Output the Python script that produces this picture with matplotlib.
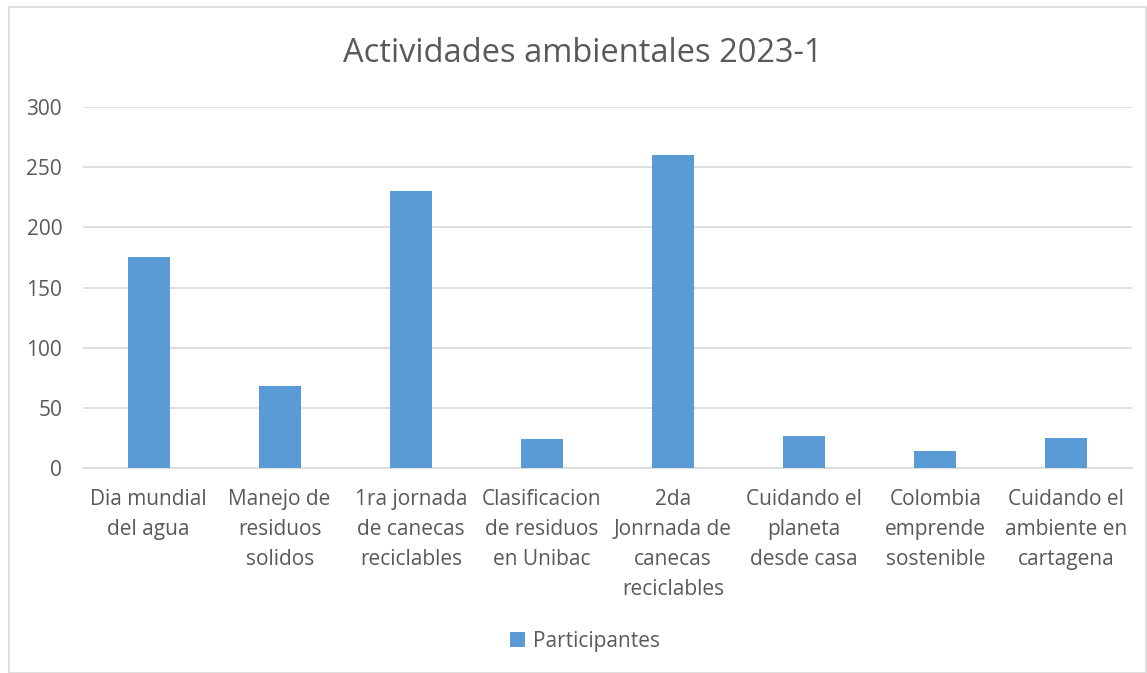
import matplotlib
matplotlib.use("Agg")
import matplotlib.pyplot as plt
from matplotlib.patches import Rectangle

categories = ["Dia mundial\ndel agua", "Manejo de\nresiduos\nsolidos",
              "1ra jornada\nde canecas\nreciclables", "Clasificacion\nde residuos\nen Unibac",
              "2da\nJonrnada de\ncanecas\nreciclables", "Cuidando el\nplaneta\ndesde casa",
              "Colombia\nemprende\nsostenible", "Cuidando el\nambiente en\ncartagena"]
participantes = [175, 68, 230, 24, 260, 27, 14, 25]
yticks = [0, 50, 100, 150, 200, 250, 300]

plt.rcParams['font.family'] = ['Open Sans', 'DejaVu Sans']
W, H = 1147, 673
fig = plt.figure(figsize=(W/100, H/100), dpi=100)
fig.patches.append(Rectangle((9/W, 0), (W-10)/W, (H-7)/H, transform=fig.transFigure,
                             fill=False, edgecolor='#d9d9d9', linewidth=1.2))
ax = fig.add_axes([83/W, 1-468/H, (1132-83)/W, (468-107)/H])
x = range(len(categories))
ax.bar(x, participantes, width=0.32, color='#5b9bd5', label='Participantes', zorder=3)
ax.set_ylim(0, 300)
ax.set_xlim(-0.5, len(categories)-0.5)
ax.set_yticks(yticks)
ax.set_xticks(list(x))
ax.set_xticklabels(categories, fontsize=15, color='#595959', linespacing=1.57)
ax.tick_params(axis='y', labelsize=15, labelcolor='#595959', length=0, pad=15)
ax.tick_params(axis='x', length=0, pad=15)
ax.grid(axis='y', color='#d9d9d9', linewidth=1.2, zorder=0)
for s in ['top', 'right', 'left']:
    ax.spines[s].set_visible(False)
ax.spines['bottom'].set_color('#d9d9d9')
ax.spines['bottom'].set_linewidth(1.2)
fig.text(583/W, 1-54/H, "Actividades ambientales 2023-1", ha='center', va='center',
         fontsize=23.5, color='#595959')
leg = fig.legend(loc='center', bbox_to_anchor=(585/W, 1-641/H), frameon=False,
                 fontsize=15, handlelength=0.7, handleheight=0.7, handletextpad=0.4)
for t in leg.get_texts():
    t.set_color('#595959')
fig.savefig("out.png", dpi=100)
